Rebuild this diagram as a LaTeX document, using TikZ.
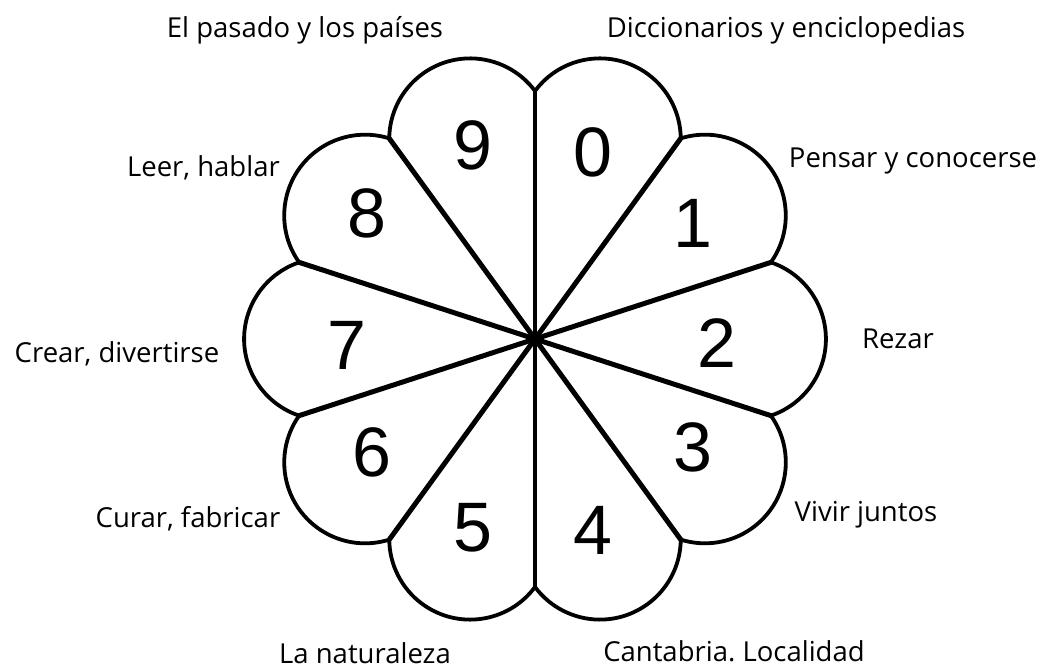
\documentclass[tikz,border=0pt]{standalone}
\usepackage{fontspec}
\setmainfont{Open Sans}
\newfontfamily\digitfont{Liberation Sans}
\frenchspacing
\begin{document}
\begin{tikzpicture}[x=1pt,y=1pt,
  spoke/.style={line width=5pt, line cap=round},
  vspoke/.style={line width=3.6pt},
  petal/.style={line width=3.8pt},
  lbl/.style={font=\fontsize{27.5}{30}\selectfont, inner sep=0pt, anchor=base},
  num/.style={font=\digitfont\fontsize{70}{70}\selectfont, inner sep=0pt}]
\useasboundingbox (0,0) rectangle (1040,669);
\coordinate (c) at (535,330);
\foreach \i in {0,...,9}{
  \pgfmathsetmacro\a{90-36*\i}
  \coordinate (s\i) at ([shift={(\a:248)}]c);
}
\foreach \i in {1,2,3,4,6,7,8,9}{ \draw[spoke] (c) -- (s\i); }
\draw[vspoke] (c) -- (s0);
\draw[vspoke] (c) -- (s5);
\foreach \k in {0,...,9}{
  \pgfmathsetmacro\t{72-36*\k}
  \draw[petal] (s\k) arc[start angle=\t+71.36, end angle=\t-71.36, radius=80.88];
}
\node[num] (n9) at (473,524) {9};
\node[num] (n0) at (593,517) {0};
\node[num] (n1) at (693,446) {1};
\node[num] (n2) at (717,326) {2};
\node[num] (n3) at (693,222) {3};
\node[num] (n4) at (593,139) {4};
\node[num] (n5) at (473,141) {5};
\node[num] (n6) at (372,217) {6};
\node[num] (n7) at (347,324) {7};
\node[num] (n8) at (367,456) {8};
\node[lbl] (l9) at (305,631) {El pasado y los países};
\node[lbl] (l0) at (786,631) {Diccionarios y enciclopedias};
\node[lbl] (l1) at (913,501) {Pensar y conocerse};
\node[lbl,anchor=base east] (l8) at (280,492) {Leer, hablar};
\node[lbl] (l2) at (898,320) {Rezar};
\node[lbl] (l7) at (117,306) {Crear, divertirse};
\node[lbl] (l3) at (866,147) {Vivir juntos};
\node[lbl] (l6) at (188,141) {Curar, fabricar};
\node[lbl] (l5) at (365,6) {La naturaleza};
\node[lbl] (l4) at (734,8) {Cantabria. Localidad};
\end{tikzpicture}
\end{document}
